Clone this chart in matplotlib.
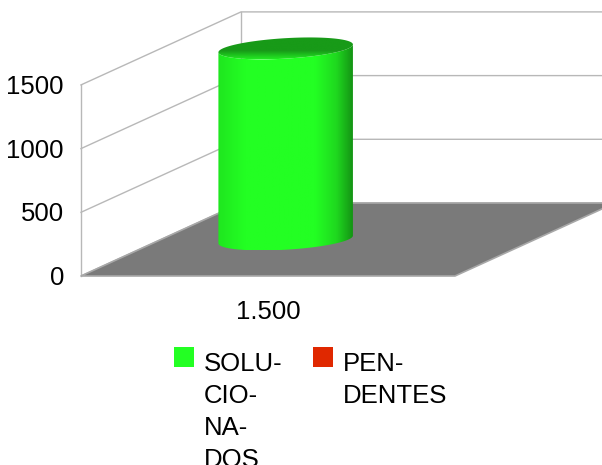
import matplotlib
matplotlib.use("Agg")
import matplotlib.pyplot as plt
import numpy as np
from matplotlib.colors import LinearSegmentedColormap
from matplotlib.patches import Polygon, Rectangle

plt.rcParams['font.family'] = ['Liberation Sans', 'DejaVu Sans']

categories = ["1.500"]
solucionados = [1500]
pendentes = [0]
y_ticks = [0, 500, 1000, 1500]
legend_solucionados = ["SOLU-", "CIO-", "NA-", "DOS"]
legend_pendentes = ["PEN-", "DENTES"]

GREEN = "#23ff23"
RED = "#e02800"
WALL = "#b8b8b8"
FLOOR = "#7a7a7a"
FS = 18.5

# pixel geometry of the fake 3d box
X0, Y0 = 81, 276
W = 374
DX, DY = 160, 73
PX_PER_UNIT = 63.7 / 500


def project(u, d, v):
    # u along the front edge, d into the depth, v is the value
    return X0 + W * u + DX * d, Y0 - DY * d - PX_PER_UNIT * v


def ellipse(uc, dc, ru, rd, v, t):
    return project(uc + ru * np.cos(t), dc + rd * np.sin(t), v)


fig = plt.figure(figsize=(6.02, 4.65), dpi=100)
ax = fig.add_axes([0, 0, 1, 1])
ax.axis("off")

# walls
for val in y_ticks:
    xa, ya = project(0, 0, val)
    xb, yb = project(0, 1, val)
    ax.plot([xa, xb, 602], [ya, yb, yb], color=WALL, lw=1, zorder=1)
xa, ya = project(0, 0, 0)
xb, yb = project(0, 0, y_ticks[-1])
ax.plot([xa, xb], [ya, yb], color=WALL, lw=1, zorder=1)
xa, ya = project(0, 1, 0)
xb, yb = project(0, 1, y_ticks[-1])
ax.plot([xa, xb], [ya, yb], color=WALL, lw=1, zorder=1)

# floor
floor = [project(0, 0, 0), project(1, 0, 0), project(1, 1, 0), project(0, 1, 0)]
ax.add_patch(Polygon(floor, closed=True, fc=FLOOR, ec="#a8a8a8", lw=1.2, zorder=2))

# cylinder
uc, dc, ru, rd = 1 / 3, 0.5, 0.168, 0.15
t0 = np.arctan2(DX * rd, W * ru)
arc = np.linspace(t0 + np.pi, t0 + 2 * np.pi, 80)
bx, by = ellipse(uc, dc, ru, rd, 0, arc)
tx, ty = ellipse(uc, dc, ru, rd, solucionados[0], arc)
body = np.column_stack([np.r_[bx, tx[::-1]], np.r_[by, ty[::-1]]])
patch = Polygon(body, closed=True, fc="none", ec="none", zorder=3)
ax.add_patch(patch)
cmap = LinearSegmentedColormap.from_list("cyl", [
    (0, "#1fe61f"), (0.2, GREEN), (0.72, GREEN), (0.88, "#1fd81f"), (1, "#149414")])
im = ax.imshow(np.linspace(0, 1, 256).reshape(1, -1), cmap=cmap, aspect="auto", zorder=3,
               extent=[body[:, 0].min(), body[:, 0].max(), body[:, 1].max(), body[:, 1].min()])
im.set_clip_path(patch)

# top cap, dark at the back and fading into the body at the front rim
t = np.linspace(0, 2 * np.pi, 160)
ex, ey = ellipse(uc, dc, ru, rd, solucionados[0], t)
cap = Polygon(np.column_stack([ex, ey]), closed=True, fc="none", ec="none", zorder=4)
ax.add_patch(cap)
cap_cmap = LinearSegmentedColormap.from_list("cap", [
    (0, "#189a18"), (0.62, "#189a18"), (1, "#22e822")])
cap_im = ax.imshow(np.linspace(0, 1, 64).reshape(-1, 1), cmap=cap_cmap, aspect="auto", zorder=4,
                   origin="upper", extent=[ex.min(), ex.max(), ey.max(), ey.min()])
cap_im.set_clip_path(cap)

# y ticks
for val in y_ticks:
    xa, ya = project(0, 0, val)
    ax.text(64, ya + 2, str(val), ha="right", va="center", fontsize=FS, color="black", zorder=5)

ax.text(268, 312, categories[0], ha="center", va="center", fontsize=FS, color="black")

# legend
ax.add_patch(Rectangle((174, 347), 20, 20, fc=GREEN, ec="none"))
ax.add_patch(Rectangle((313, 347), 20, 20, fc=RED, ec="none"))
for i, line in enumerate(legend_solucionados):
    ax.text(204, 371 + i * 32, line, ha="left", va="baseline", fontsize=FS, color="black")
for i, line in enumerate(legend_pendentes):
    ax.text(343, 371 + i * 32, line, ha="left", va="baseline", fontsize=FS, color="black")

ax.set_xlim(0, 602)
ax.set_ylim(465, 0)

plt.savefig("out.png", dpi=100)
